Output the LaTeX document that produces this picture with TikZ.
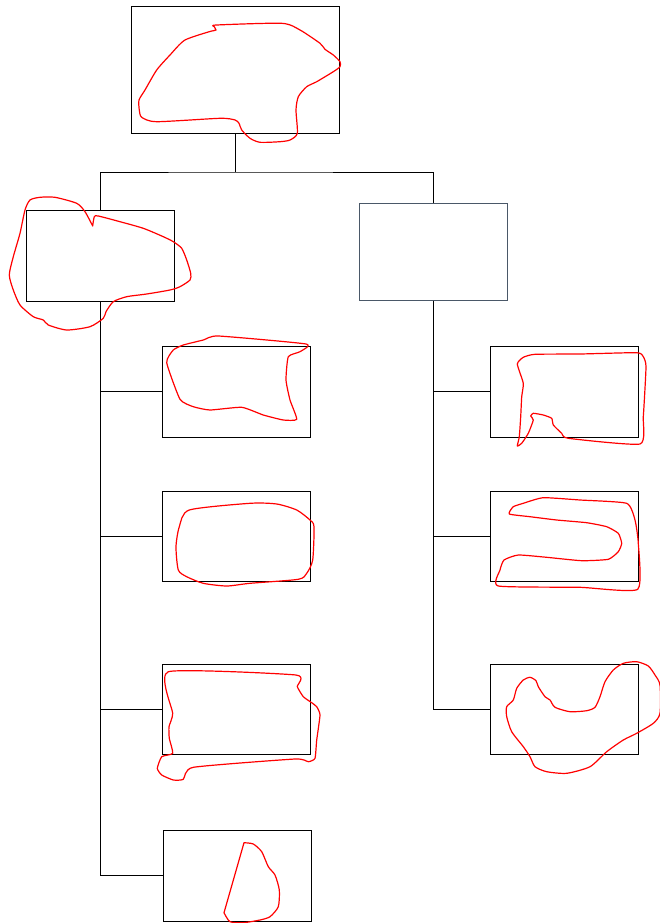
\documentclass[tikz,border=0pt]{standalone}
\usetikzlibrary{calc}
\begin{document}
\begin{tikzpicture}[x=1pt,y=-1pt,
  box/.style={draw=black,line width=1pt,fill=none,inner sep=0pt,minimum width=148pt,minimum height=91pt},
  conn/.style={draw=black,line width=1pt},
  scrib/.style={draw=red,line width=1.2pt,line join=round,line cap=round}]
\useasboundingbox (0,0) rectangle (660,923);
% boxes
\node[box,minimum width=208pt,minimum height=127pt] (T) at (235,70.5) {};
\node[box] (L) at (100,255.5) {};
\node[box,draw={rgb,255:red,74;green,88;blue,104},minimum height=97pt] (R) at (433,251.5) {};
\node[box] (L1) at (236,391.5) {};
\node[box,minimum height=90pt] (L2) at (236,536) {};
\node[box,minimum height=90pt] (L3) at (236,709) {};
\node[box] (L4) at (237,875.5) {};
\node[box] (R1) at (564,391.5) {};
\node[box,minimum height=90pt] (R2) at (564,536) {};
\node[box,minimum height=90pt] (R3) at (564,709) {};
% connectors
\coordinate (bus) at (235,172);
\draw[conn] (T.south) -- (bus);
\draw[conn] (L.north) |- (bus) -| (R.north);
\draw[conn] (L.south) |- (L4.west);
\draw[conn] (L1.west) -- (L1.west -| L.south);
\draw[conn] (L2.west) -- (L2.west -| L.south);
\draw[conn] (L3.west) -- (L3.west -| L.south);
\draw[conn] (R.south) |- (R3.west);
\draw[conn] (R1.west) -- (R1.west -| R.south);
\draw[conn] (R2.west) -- (R2.west -| R.south);
% scribbles
\draw[scrib] plot[smooth,tension=0.4] coordinates {(211.7,31) (216,30) (214.3,26.7) (216.7,25) (281.7,23.3) (300,30) (320,43.3) (325,49.3) (333.3,55) (340,61.7) (340,66.7) (333.3,71.7) (316.7,81.7) (306.7,86.7) (298.3,96.7) (296,110) (297.3,133.3) (290,140) (280,141.7) (260,142.3) (250,138.3) (241.7,130) (239,123.3) (235,120) (220,118.3) (156.7,121.7) (141.7,117.3) (139.3,110) (139,100) (145,90) (156.7,70) (170,55) (185,40) (211.7,31)};
\draw[scrib] plot[smooth,tension=0.4] coordinates {(92.7,226) (94.3,216.7) (98.3,216) (120,221.7) (143.3,228.3) (163.3,236.7) (173.3,241.7) (181.7,248.3) (186.7,260) (190.7,273.3) (190,280) (180,286.7) (170,290) (146.7,294) (126.7,296.7) (113.3,301.7) (106,311.7) (103.3,318.3) (90,326.7) (66.7,330) (48.3,325) (43.3,320) (33.3,316.7) (20,305) (13.3,290) (9.3,275) (13.3,256.7) (20,233.3) (25,210) (30,200) (40,197.3) (55,197.3) (76.7,203.3) (85,211.7) (92.7,226)};
\draw[scrib] plot[smooth cycle,tension=0.3] coordinates {(166.7,362.7) (180,399.3) (193.3,406.7) (210,410) (241.7,407.3) (263.3,415) (283.3,420) (296.7,419.3) (290,400) (286,380) (288.3,356.7) (300,351.7) (306,344) (218.3,336) (203.3,340) (183.3,345) (173.3,350)};
\draw[scrib] plot[smooth cycle,tension=0.4] coordinates {(189.3,510) (250,503.3) (276.7,504) (296.7,510) (310,520) (314,526.7) (312.7,560) (306.7,573.3) (298.3,579.3) (250,583.3) (226.7,586) (203.3,583.3) (186.7,576.7) (178.3,570) (176,546.7) (179.3,526.7)};
\draw[scrib] plot[smooth cycle,tension=0.3] coordinates {(517.3,446) (521.7,443.3) (528.3,433.3) (533.3,420) (530.7,416) (533.3,413.3) (543.3,415) (551.7,418.3) (553.3,425) (561.7,433.3) (568.3,438.3) (640,444) (643.3,416.7) (646,366.7) (643.3,356.7) (636.7,352.7) (580,354) (535,354.3) (523.3,357.3) (517.3,364) (523.3,383.3) (521.7,396.7) (520.7,416.7) (519.3,436.7)};
\draw[scrib] plot[smooth cycle,tension=0.3] coordinates {(509.3,514) (513.3,506.7) (523.3,503.3) (543.3,497.7) (580,500) (626.7,503.3) (635,520) (638.3,543.3) (637.7,589.3) (580,587.3) (498.3,586) (500,570) (504,560) (518.3,555) (546.7,557.3) (581.7,560.7) (608.3,559.3) (618.3,551.7) (621.7,543.3) (618.3,533.3) (606.7,526.7) (586.7,522.7) (556.7,520) (530,516.7)};
\draw[scrib] plot[smooth cycle,tension=0.3] coordinates {(168.3,671.7) (296,675) (297.3,686.7) (303.3,696.7) (311.7,702.7) (316.7,706.7) (320,715) (316.7,740) (315,758.3) (308.3,761.7) (295,759) (193.3,767.3) (183.3,779.3) (173.3,780) (161.7,775) (157.3,768.3) (161.7,756.7) (172.7,753.3) (169.3,738.3) (169,726.7) (172.7,713.3)};
\draw[scrib] plot[smooth cycle,tension=0.4] coordinates {(513.3,700) (516.7,688.3) (523.3,680) (530,677.3) (536,680.7) (538.3,686.7) (545,696.7) (550,700) (555,707.3) (570,711.7) (586.7,710.7) (595,707.3) (600,696.7) (605,681.7) (613.3,670) (623.3,663.3) (636.7,661.7) (648.3,666) (655,675) (660,685) (660,713.3) (653.3,723.3) (636.7,733.3) (623.3,740) (606.7,751.7) (590,766.7) (566.7,773.3) (546.7,771.7) (535,766.7) (530,756.7) (523.3,746.7) (511.7,731.7) (506.7,716.7) (506.7,706.7)};
\draw[scrib] plot[smooth,tension=0.4] coordinates {(244,842.7) (253.3,844) (261.7,851.7) (268.3,866.7) (275,875) (279.3,890) (278.3,906.7) (270,916.7) (260,920) (243.3,922.7) (230,921.7) (224,912.7)} -- cycle;
\end{tikzpicture}
\end{document}
